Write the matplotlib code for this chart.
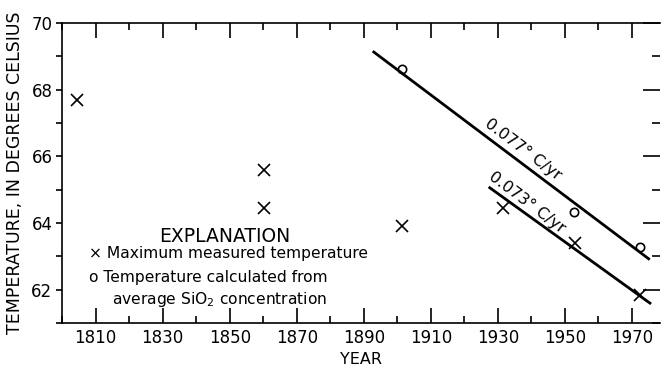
import matplotlib
matplotlib.use('Agg')
import matplotlib.pyplot as plt
from matplotlib.ticker import MultipleLocator

# maximum measured temperature (x markers)
measured_years = [1804.5, 1860.3, 1860.3, 1901.5, 1931.5, 1953.0, 1972.3]
measured_temps = [67.7, 65.6, 64.45, 63.9, 64.45, 63.4, 61.85]

# temperature calculated from average SiO2 concentration (open circles)
calc_years = [1901.5, 1952.8, 1972.5]
calc_temps = [68.62, 64.33, 63.27]

# fitted trend lines (end points)
upper_line_years = [1893.0, 1975.0]
upper_line_temps = [69.13, 62.93]
lower_line_years = [1927.6, 1975.4]
lower_line_temps = [65.06, 61.6]

x_ticks = list(range(1810, 1971, 20))
y_ticks = [62, 64, 66, 68, 70]

plt.rcParams['font.family'] = ['DejaVu Sans']

fig = plt.figure(figsize=(6.61, 3.71), dpi=100)
ax = fig.add_axes([0.094, 0.129, 0.905, 0.809])

ax.plot(measured_years, measured_temps, linestyle='none', marker='x',
        color='black', markersize=8, markeredgewidth=1.2)
ax.plot(calc_years, calc_temps, linestyle='none', marker='o',
        markerfacecolor='white', markeredgecolor='black', markersize=6,
        markeredgewidth=1.2)
ax.plot(upper_line_years, upper_line_temps, color='black', linewidth=2)
ax.plot(lower_line_years, lower_line_temps, color='black', linewidth=2)

ax.text(1937.5, 66.2, '0.077\u00b0 C/yr', rotation=-37, rotation_mode='anchor',
        ha='center', va='center', fontsize=11.5)
ax.text(1938.8, 64.62, '0.073\u00b0 C/yr', rotation=-37, rotation_mode='anchor',
        ha='center', va='center', fontsize=11.5)

# explanation block
ax.text(1848.5, 63.6, 'EXPLANATION', ha='center', va='center', fontsize=13.5)
ax.text(1808.0, 63.08, '\u00d7 Maximum measured temperature', ha='left',
        va='center', fontsize=11.2)
ax.text(1808.0, 62.37, 'o Temperature calculated from', ha='left',
        va='center', fontsize=11.2)
ax.text(1815.0, 61.7, 'average SiO$_2$ concentration', ha='left',
        va='center', fontsize=11.2)

ax.set_xlim(1800, 1978.5)
ax.set_ylim(61.0, 70.0)
ax.set_xticks(x_ticks)
ax.set_yticks(y_ticks)
ax.xaxis.set_minor_locator(MultipleLocator(10))
ax.yaxis.set_minor_locator(MultipleLocator(1))

ax.tick_params(axis='x', which='major', direction='in', length=11, width=1.2,
               top=True, bottom=True, labelsize=12, pad=4)
ax.tick_params(axis='x', which='minor', direction='in', length=5, width=1.2,
               top=True, bottom=True)
ax.tick_params(axis='y', which='both', direction='out', length=4, width=1.2,
               left=True, right=False, labelsize=12, pad=3)

# right side ticks point inward, no spine
right = ax.secondary_yaxis('right')
right.set_yticks(y_ticks)
right.yaxis.set_minor_locator(MultipleLocator(1))
right.tick_params(axis='y', which='major', direction='in', length=12,
                  width=1.2, labelright=False)
right.tick_params(axis='y', which='minor', direction='in', length=6,
                  width=1.2)
right.spines['right'].set_visible(False)

ax.spines['right'].set_visible(False)
for s in ['left', 'top', 'bottom']:
    ax.spines[s].set_linewidth(1.2)

ax.set_xlabel('YEAR', fontsize=11.5, labelpad=4)
ax.set_ylabel('TEMPERATURE, IN DEGREES CELSIUS', fontsize=12.5, labelpad=5)

fig.savefig('out.png', dpi=100)
